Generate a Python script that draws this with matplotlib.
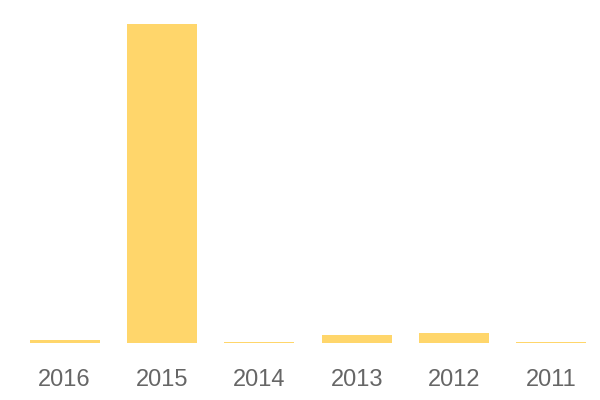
import matplotlib
matplotlib.use("Agg")
import matplotlib.pyplot as plt

years = ["2016", "2015", "2014", "2013", "2012", "2011"]
values = [9.5, 1000, 4, 26, 32, 4]

fig = plt.figure(figsize=(6, 4), dpi=100)
ax = fig.add_axes([16/600, (400-343)/400, 584/600, (343-24)/400])
ax.bar(range(len(years)), values, width=0.72, color="#FFD66B")
ax.set_xlim(-0.5, len(years) - 0.5)
ax.set_ylim(0, max(values))
ax.set_xticks(range(len(years)))
ax.set_xticklabels(years, fontsize=17, color="#666666", family=["Liberation Sans", "DejaVu Sans"])
ax.tick_params(axis="x", length=0, pad=18.5)
ax.set_yticks([])
for s in ax.spines.values():
    s.set_visible(False)
fig.savefig("out.png", dpi=100)
